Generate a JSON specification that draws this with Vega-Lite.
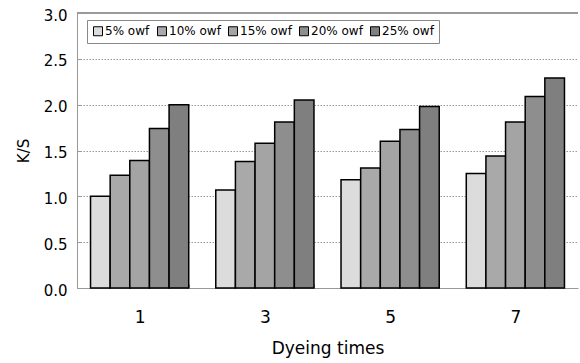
{
  "$schema": "https://vega.github.io/schema/vega-lite/v6.json",
  "width": 501,
  "height": 275,
  "autosize": {"type": "none"},
  "padding": {"left": 77, "top": 13, "right": 2, "bottom": 75},
  "background": "white",
  "config": {"view": {"stroke": null}, "font": "DejaVu Sans"},
  "data": {
    "values": [
      {"times": "1", "conc": "5% owf", "ks": 1.00},
      {"times": "1", "conc": "10% owf", "ks": 1.23},
      {"times": "1", "conc": "15% owf", "ks": 1.39},
      {"times": "1", "conc": "20% owf", "ks": 1.74},
      {"times": "1", "conc": "25% owf", "ks": 2.00},
      {"times": "3", "conc": "5% owf", "ks": 1.07},
      {"times": "3", "conc": "10% owf", "ks": 1.38},
      {"times": "3", "conc": "15% owf", "ks": 1.58},
      {"times": "3", "conc": "20% owf", "ks": 1.81},
      {"times": "3", "conc": "25% owf", "ks": 2.05},
      {"times": "5", "conc": "5% owf", "ks": 1.18},
      {"times": "5", "conc": "10% owf", "ks": 1.31},
      {"times": "5", "conc": "15% owf", "ks": 1.60},
      {"times": "5", "conc": "20% owf", "ks": 1.73},
      {"times": "5", "conc": "25% owf", "ks": 1.98},
      {"times": "7", "conc": "5% owf", "ks": 1.25},
      {"times": "7", "conc": "10% owf", "ks": 1.44},
      {"times": "7", "conc": "15% owf", "ks": 1.81},
      {"times": "7", "conc": "20% owf", "ks": 2.09},
      {"times": "7", "conc": "25% owf", "ks": 2.29}
    ]
  },
  "layer": [
    {
      "mark": {"type": "bar", "stroke": "black", "strokeWidth": 1.5},
      "encoding": {
        "x": {
          "field": "times", "type": "nominal", "sort": ["1", "3", "5", "7"],
          "scale": {"paddingInner": 0.216, "paddingOuter": 0.108},
          "axis": {
            "title": "Dyeing times", "titleFontSize": 17, "titleFontWeight": "normal", "titleColor": "black",
            "titlePadding": 15,
            "labelAngle": 0, "labelFontSize": 17, "labelColor": "black", "labelPadding": 25,
            "tickBand": "extent", "tickSize": -4, "tickColor": "#999", "domainColor": "#999"
          }
        },
        "xOffset": {
          "field": "conc", "type": "nominal",
          "sort": ["5% owf", "10% owf", "15% owf", "20% owf", "25% owf"],
          "scale": {"paddingInner": 0, "paddingOuter": 0}
        },
        "y": {
          "field": "ks", "type": "quantitative",
          "scale": {"domain": [0, 3]},
          "axis": {
            "title": "K/S", "titleFontSize": 15, "titleFontWeight": "normal", "titleColor": "black",
            "titlePadding": 12,
            "values": [0, 0.5, 1, 1.5, 2, 2.5, 3], "format": ".1f",
            "labelFontSize": 15, "labelColor": "black", "labelPadding": 14, "labelOffset": 2,
            "tickSize": -4, "tickColor": "#999", "domainColor": "#999",
            "gridColor": "#999", "gridDash": [1.5, 1.5]
          }
        },
        "fill": {
          "field": "conc", "type": "nominal",
          "scale": {
            "domain": ["5% owf", "10% owf", "15% owf", "20% owf", "25% owf"],
            "range": ["#dcdcdc", "#a9a9a9", "#a4a4a4", "#8e8e8e", "#7f7f7f"]
          },
          "legend": {
            "orient": "none", "legendX": 10, "legendY": 7, "direction": "horizontal",
            "title": null, "strokeColor": "#888", "fillColor": "white", "padding": 5,
            "symbolType": "square", "symbolSize": 81, "symbolStrokeColor": "black", "symbolStrokeWidth": 1,
            "labelFontSize": 12, "labelColor": "black", "labelOffset": 1, "columnPadding": 5
          }
        }
      }
    },
    {
      "mark": {"type": "rule", "color": "#999"},
      "encoding": {"y": {"datum": 3}}
    }
  ]
}
